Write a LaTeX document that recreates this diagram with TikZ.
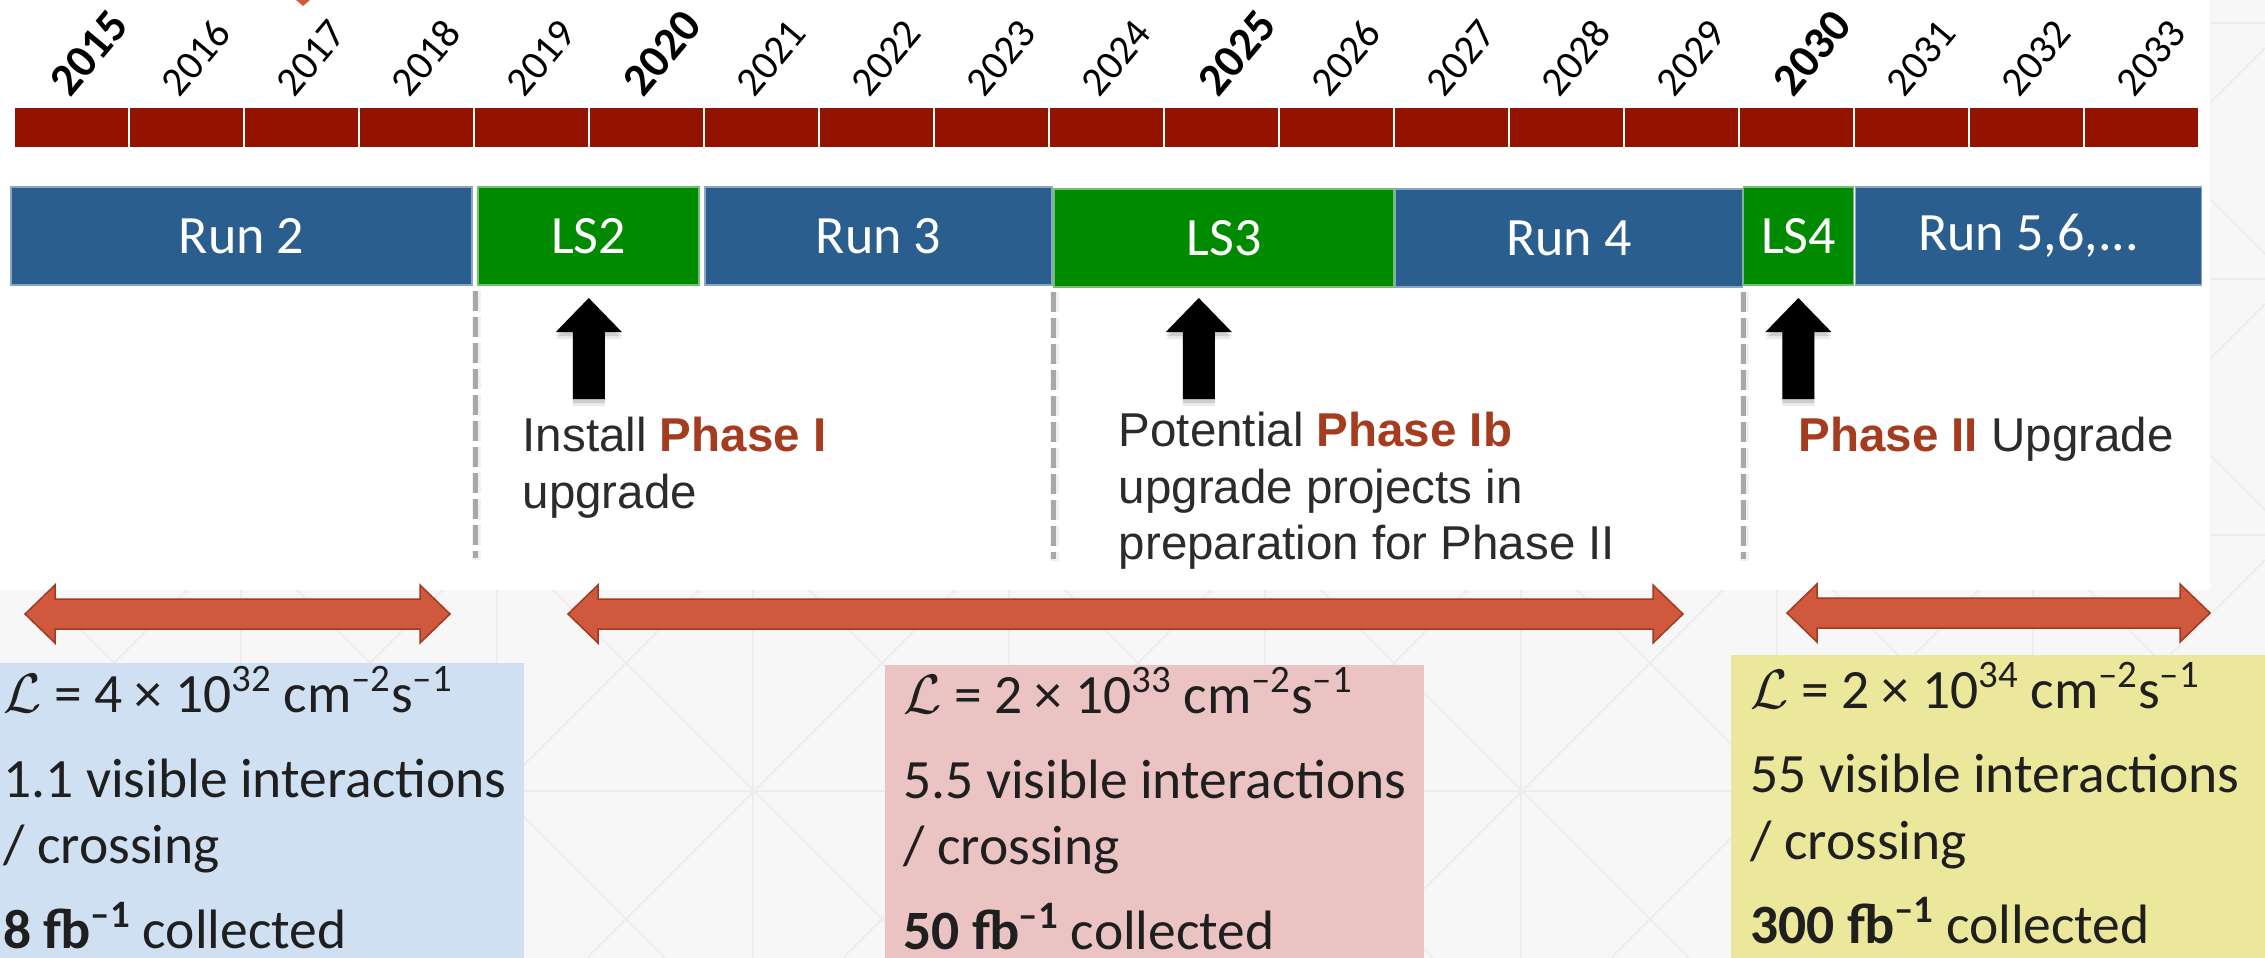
\RequirePackage{fix-cm}
\documentclass[tikz,border=0pt]{standalone}
\usepackage{fontspec}
\setmainfont{Carlito}
\newfontfamily\arialf{Liberation Sans}
\usetikzlibrary{calc}

\definecolor{yearred}{HTML}{931300}
\definecolor{runblue}{HTML}{2A5E8F}
\definecolor{lsgreen}{HTML}{008A00}
\definecolor{rust}{HTML}{A63C1F}
\definecolor{txtgray}{HTML}{2B2B2B}
\definecolor{arrowfill}{HTML}{D0583C}
\definecolor{arrowline}{HTML}{A03A22}
\definecolor{bgpat}{HTML}{F7F7F7}
\definecolor{patline}{HTML}{EDEDED}
\definecolor{boxblue}{HTML}{CFE0F2}
\definecolor{boxpink}{HTML}{EBC3C3}
\definecolor{boxyellow}{HTML}{EBE79B}
\definecolor{sepgray}{HTML}{A8A8A8}

\newcommand\yreg{\fontsize{41}{41}\selectfont}
\newcommand\ybold{\fontsize{46}{46}\selectfont\bfseries}
\newcommand\hl[1]{\textcolor{rust}{\bfseries #1}}
\newcommand\sups[1]{\textsuperscript{#1}}

% black block arrow pointing up, centred at x = #1
\newcommand\upblock[1]{%
  \foreach \s/\o in {7/0.08,4/0.12}
    \fill[black, opacity=\o, shift={(0,\s)}]
      (#1,298) -- ({#1+33},332) -- ({#1+16},332) -- ({#1+16},399) --
      ({#1-16},399) -- ({#1-16},332) -- ({#1-33},332) -- cycle;
  \fill[black]
      (#1,298) -- ({#1+33},332) -- ({#1+16},332) -- ({#1+16},399) --
      ({#1-16},399) -- ({#1-16},332) -- ({#1-33},332) -- cycle;}

% horizontal double-headed block arrow from x=#1 to x=#2 at height #3
\newcommand\dblarrow[3]{%
  \filldraw[fill=arrowfill, draw=arrowline, line width=1.5pt, line join=miter]
    (#1,#3) -- ({#1+30},{#3-29}) -- ({#1+30},{#3-15}) -- ({#2-30},{#3-15}) --
    ({#2-30},{#3-29}) -- (#2,#3) -- ({#2-30},{#3+29}) -- ({#2-30},{#3+15}) --
    ({#1+30},{#3+15}) -- ({#1+30},{#3+29}) -- cycle;}

\begin{document}
\begin{tikzpicture}[x=1pt, y=-1pt,
  yearlbl/.style={rotate=50, anchor=south west, inner sep=0pt, text=black},
  phasebox/.style={draw=#1!55!white, line width=1.2pt, fill=#1, text=white,
    inner sep=0pt, minimum height=98, font=\fontsize{54}{54}\selectfont},
  runbox/.style={phasebox=runblue},
  lsbox/.style={phasebox=lsgreen},
  sepline/.style={sepgray, line width=5pt, dash pattern=on 20pt off 6pt},
  note/.style={anchor=base west, inner sep=0pt, text=txtgray,
    font=\arialf\fontsize{47.5}{57}\selectfont},
  statbox/.style={fill=#1, draw=none, anchor=north west, inner sep=0pt},
  stat/.style={anchor=base west, inner sep=0pt, text=black!88,
    font=\fontsize{55.5}{66}\selectfont}]

\useasboundingbox (0,0) rectangle (2265,958);

% faint patterned backdrop
\fill[bgpat] (0,0) rectangle (2265,958);
\begin{scope}
  \clip (0,0) rectangle (2265,958);
  \foreach \k in {-1,...,8}
    \draw[patline, line width=1.5pt] ({241+256*\k},0) -- ({241+256*\k},958);
  \foreach \k in {0,...,3}
    \draw[patline, line width=1.5pt] (0,{23+256*\k}) -- (2265,{23+256*\k});
  \foreach \k in {-5,...,10}
    \draw[patline, line width=1.5pt] ({-37+256*\k-100},-100) -- ({-37+256*\k+1100},1100);
  \foreach \k in {-7,...,7}
    \draw[patline, line width=1.5pt] ({1545+256*\k+100},-100) -- ({1545+256*\k-1100},1100);
\end{scope}
\fill[white] (0,0) rectangle (2210,590);

% small marker at the top edge
\fill[arrowfill] (296,0) -- (310,0) -- (303,6) -- cycle;

% year scale
\foreach \i/\yr/\yf/\dx in {0/2015/\ybold/0,1/2016/\yreg/-6,2/2017/\yreg/-6,3/2018/\yreg/-6,
    4/2019/\yreg/-6,5/2020/\ybold/-2,6/2021/\yreg/-6,7/2022/\yreg/-6,8/2023/\yreg/-6,
    9/2024/\yreg/-6,10/2025/\ybold/-2,11/2026/\yreg/-6,12/2027/\yreg/-6,13/2028/\yreg/-6,
    14/2029/\yreg/-6,15/2030/\ybold/-2,16/2031/\yreg/-6,17/2032/\yreg/-6,18/2033/\yreg/-6}
{
  \fill[yearred] ({13.6+115*\i+1},108) rectangle ({13.6+115*\i+114},147);
  \node[yearlbl] (y\yr) at ({13.6+115*\i+57.5+\dx},99) {\yf\yr};
}

% run / long shutdown periods
\node[runbox, minimum width=461] (run2) at (241.5,236) {Run 2};
\node[lsbox,  minimum width=221] (ls2)  at (588.5,236) {LS2};
\node[runbox, minimum width=347] (run3) at (878.5,236) {Run 3};
\node[lsbox,  minimum width=340] (ls3)  at (1224,238)  {LS3};
\node[runbox, minimum width=347] (run4) at (1569,238)  {Run 4};
\node[lsbox,  minimum width=110] (ls4)  at (1798.7,236) {LS4};
\node[runbox, minimum width=346] (run5) at (2028.7,236) {Run 5,6,...};

% phase separators
\coordinate (d1) at ($(run2.south east)!.5!(ls2.south west)$);
\coordinate (d2) at ($(run3.south east)!.5!(ls3.south west)$);
\coordinate (d3) at ($(run4.south east)!.5!(ls4.south west)$);
\foreach \d in {d1,d2,d3}{
  \draw[sepline, black, opacity=0.06, line width=9pt] ($(\d)+(1,5)$) -- ($(\d)+(1,274)$);
  \draw[sepline] ($(\d)+(0,5)$) -- ($(\d)+(0,272)$);
}

% upgrade markers
\upblock{588.8}
\upblock{1198.8}
\upblock{1798.4}

\node[note] (n1a) at (522.5,451) {Install \hl{Phase I}};
\node[note] (n1b) at (522.5,508) {upgrade};
\node[note] (n2a) at (1118.6,446) {Potential \hl{Phase Ib}};
\node[note] (n2b) at (1118.6,503) {upgrade projects in};
\node[note] (n2c) at (1118.6,559) {preparation for Phase II};
\node[note] (n3a) at (1798.4,451) {\hl{Phase II} Upgrade};

% period spans
\dblarrow{25}{450}{614}
\dblarrow{568}{1683}{614}
\dblarrow{1787}{2210}{613}

% luminosity summaries
\node[statbox=boxblue, minimum width=523.5, minimum height=295] (s1) at (0,663) {};
\node[statbox=boxpink, minimum width=539, minimum height=293] (s2) at (885,665) {};
\node[statbox=boxyellow, minimum width=534, minimum height=303] (s3) at (1731,655) {};

\node[stat] (s1a) at (3,712) {$\mathcal{L}$ = 4 × 10\sups{32} cm\sups{–2}s\sups{–1}};
\node[stat] (s1b) at (3,797) {1.1 visible interactions};
\node[stat] (s1c) at (3,863) {/ crossing};
\node[stat] (s1d) at (3,948) {\textbf{8 fb\sups{–1}} collected};

\node[stat] (s2a) at (903,713) {$\mathcal{L}$ = 2 × 10\sups{33} cm\sups{–2}s\sups{–1}};
\node[stat] (s2b) at (903,798) {5.5 visible interactions};
\node[stat] (s2c) at (903,864) {/ crossing};
\node[stat] (s2d) at (903,949) {\textbf{50 fb\sups{–1}} collected};

\node[stat] (s3a) at (1750,708) {$\mathcal{L}$ = 2 × 10\sups{34} cm\sups{–2}s\sups{–1}};
\node[stat] (s3b) at (1750,792) {55 visible interactions};
\node[stat] (s3c) at (1750,859) {/ crossing};
\node[stat] (s3d) at (1750,943) {\textbf{300 fb\sups{–1}} collected};

\end{tikzpicture}
\end{document}
